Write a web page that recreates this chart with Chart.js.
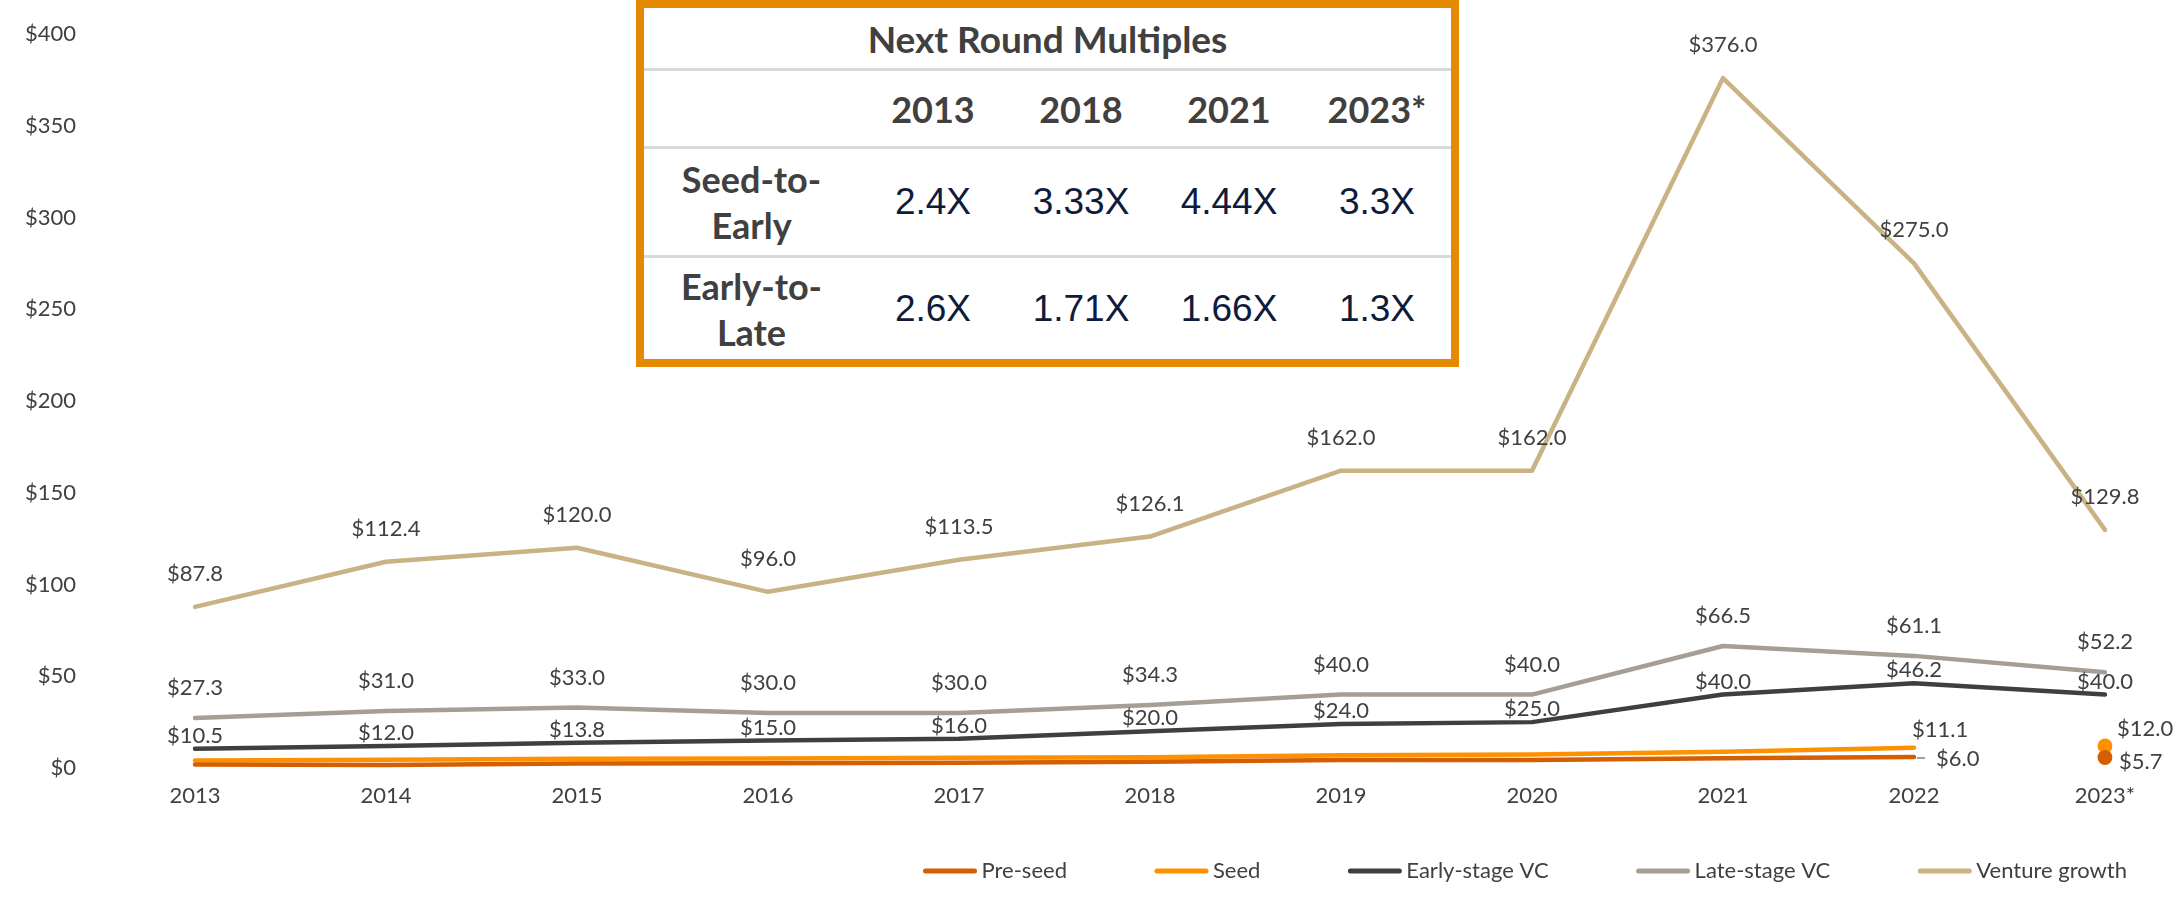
<!DOCTYPE html>
<html>
<head>
<meta charset="utf-8">
<script src="https://cdn.jsdelivr.net/npm/chart.js@4.4.1/dist/chart.umd.min.js"></script>
<style>
  html, body { margin: 0; padding: 0; background: #fff; }
  #wrap { position: relative; width: 2174px; height: 922px; }
  #multiples {
    position: absolute; left: 636px; top: 0; width: 823px; height: 367px;
    box-sizing: border-box; border: 8px solid #E38A00; background: #fff;
    font-family: Lato, sans-serif; color: #404040;
  }
  #multiples table { width: 100%; border-collapse: collapse; table-layout: fixed; }
  #multiples td { text-align: center; padding: 0; }
  #multiples tr + tr td { border-top: 3px solid #D9D9D9; }
  #multiples .title td { height: 60px; font-weight: 700; font-size: 37px; }
  #multiples .head td { height: 75px; font-weight: 700; font-size: 36px; }
  #multiples .row td { font-family: "Liberation Sans", Arial, sans-serif; font-size: 37px; color: #0E1B3A; }
  #multiples .row td.lab { font-family: Lato, sans-serif; font-weight: 700; font-size: 36px; color: #404040; line-height: 46px; }
  #multiples .r1 td { height: 106px; }
  #multiples .r2 td { height: 101px; }
</style>
</head>
<body>
<div id="wrap">
  <canvas id="chart" width="2174" height="922"></canvas>
  <div id="multiples"></div>
</div>
<script>
(function () {
    'use strict';

    const years = ['2013', '2014', '2015', '2016', '2017', '2018', '2019', '2020', '2021', '2022', '2023*'];
    const preSeed = [1.9, 1.7, 2.5, 2.6, 2.8, 3.4, 4.3, 4.4, 5.3, 6.0, 5.7];
    const seed = [4.1, 4.5, 5.0, 5.2, 5.6, 5.9, 7.0, 7.4, 8.8, 11.1, 12.0];
    const earlyStage = [10.5, 12.0, 13.8, 15.0, 16.0, 20.0, 24.0, 25.0, 40.0, 46.2, 40.0];
    const lateStage = [27.3, 31.0, 33.0, 30.0, 30.0, 34.3, 40.0, 40.0, 66.5, 61.1, 52.2];
    const ventureGrowth = [87.8, 112.4, 120.0, 96.0, 113.5, 126.1, 162.0, 162.0, 376.0, 275.0, 129.8];
    const yTicks = [0, 50, 100, 150, 200, 250, 300, 350, 400];

    const tableYears = ['2013', '2018', '2021', '2023*'];
    const seedToEarly = ['2.4X', '3.33X', '4.44X', '3.3X'];
    const earlyToLate = ['2.6X', '1.71X', '1.66X', '1.3X'];

    // table overlay
    let html = '<table><colgroup><col style="width:215px">' +
        '<col><col><col><col></colgroup>';
    html += '<tr class="title"><td colspan="5">Next Round Multiples</td></tr>';
    html += '<tr class="head"><td></td>' + tableYears.map(function (y) { return '<td>' + y + '</td>'; }).join('') + '</tr>';
    html += '<tr class="row r1"><td class="lab">Seed-to-<br>Early</td>' + seedToEarly.map(function (v) { return '<td>' + v + '</td>'; }).join('') + '</tr>';
    html += '<tr class="row r2"><td class="lab">Early-to-<br>Late</td>' + earlyToLate.map(function (v) { return '<td>' + v + '</td>'; }).join('') + '</tr>';
    html += '</table>';
    document.getElementById('multiples').innerHTML = html;

    const last = years.length - 1;
    const textColor = '#404040';
    const font = 'Lato, sans-serif';

    function series(label, data, color, dotLast) {
        return {
            label: label,
            data: data,
            borderColor: color,
            backgroundColor: color,
            borderWidth: 4.5,
            borderCapStyle: 'round',
            borderJoinStyle: 'round',
            tension: 0,
            pointRadius: data.map(function (v, i) { return dotLast && i === last ? 7.5 : 0; }),
            pointBorderWidth: 0,
            pointBackgroundColor: color,
            segment: dotLast ? {
                borderColor: function (c) { return c.p1DataIndex === last ? 'rgba(0,0,0,0)' : color; }
            } : undefined
        };
    }

    // where each value label sits: [dx, dy, align] or null
    const labelRules = [
        function (i) {
            if (i === last - 1) return [22, 2, 'left', true];
            if (i === last) return [14, 4, 'left'];
            return null;
        },
        function (i) {
            if (i === last - 1) return [-2, -18, 'left'];
            if (i === last) return [12, -17, 'left'];
            return null;
        },
        function () { return [0, -13, 'center']; },
        function () { return [0, -30, 'center']; },
        function () { return [0, -33, 'center']; }
    ];

    const valueLabels = {
        id: 'valueLabels',
        afterDatasetsDraw: function (chart) {
            const ctx = chart.ctx;
            ctx.save();
            ctx.font = '22px ' + font;
            ctx.fillStyle = textColor;
            ctx.textBaseline = 'middle';
            chart.data.datasets.forEach(function (ds, di) {
                const meta = chart.getDatasetMeta(di);
                meta.data.forEach(function (pt, i) {
                    const rule = labelRules[di](i);
                    if (!rule) return;
                    ctx.textAlign = rule[2];
                    ctx.fillText('$' + ds.data[i].toFixed(1), pt.x + rule[0], pt.y + rule[1]);
                    if (rule[3]) {
                        ctx.strokeStyle = '#808080';
                        ctx.lineWidth = 1.5;
                        ctx.beginPath();
                        ctx.moveTo(pt.x + 3, pt.y + 1);
                        ctx.lineTo(pt.x + 11, pt.y + 1);
                        ctx.stroke();
                    }
                });
            });
            ctx.restore();
        }
    };

    const bottomLegend = {
        id: 'bottomLegend',
        afterDraw: function (chart) {
            const ctx = chart.ctx;
            const sets = chart.data.datasets;
            const box = 53, gap = 5, space = 88, rightEnd = 2127, y = 871;
            ctx.save();
            ctx.font = '22px ' + font;
            ctx.textBaseline = 'middle';
            ctx.textAlign = 'left';
            let total = 0;
            sets.forEach(function (ds, i) {
                total += box + gap + ctx.measureText(ds.label).width + (i ? space : 0);
            });
            let x = rightEnd - total;
            sets.forEach(function (ds) {
                ctx.strokeStyle = ds.borderColor;
                ctx.lineWidth = 5;
                ctx.lineCap = 'round';
                ctx.beginPath();
                ctx.moveTo(x + 2, y);
                ctx.lineTo(x + box - 2, y);
                ctx.stroke();
                ctx.fillStyle = textColor;
                ctx.fillText(ds.label, x + box + gap, y);
                x += box + gap + ctx.measureText(ds.label).width + space;
            });
            ctx.restore();
        }
    };

    new Chart(document.getElementById('chart'), {
        type: 'line',
        data: {
            labels: years,
            datasets: [
                series('Pre-seed', preSeed, '#D45E00', true),
                series('Seed', seed, '#FF9100', true),
                series('Early-stage VC', earlyStage, '#3F3F3F', false),
                series('Late-stage VC', lateStage, '#A69D95', false),
                series('Venture growth', ventureGrowth, '#C9B283', false)
            ]
        },
        plugins: [valueLabels, bottomLegend],
        options: {
            responsive: false,
            animation: false,
            devicePixelRatio: 1,
            layout: { padding: { top: 34, right: 69, left: 0, bottom: 0 } },
            plugins: {
                legend: { display: false },
                tooltip: { enabled: false }
            },
            scales: {
                x: {
                    grid: { display: false, drawTicks: false },
                    border: { display: false },
                    afterFit: function (scale) { scale.height = 154; },
                    ticks: {
                        padding: 15,
                        color: textColor,
                        font: { family: font, size: 22 },
                        maxRotation: 0,
                        autoSkip: false
                    }
                },
                y: {
                    min: yTicks[0],
                    max: yTicks[yTicks.length - 1],
                    grid: { display: false, drawTicks: false },
                    border: { display: false },
                    afterFit: function (scale) {
                        scale.width = 195;
                        scale.paddingTop = 0;
                        scale.paddingBottom = 0;
                    },
                    afterBuildTicks: function (scale) {
                        scale.ticks = yTicks.map(function (v) { return { value: v }; });
                    },
                    ticks: {
                        padding: 119,
                        color: textColor,
                        font: { family: font, size: 22 },
                        callback: function (v) { return '$' + v; }
                    }
                }
            }
        }
    });
})();
</script>
</body>
</html>
